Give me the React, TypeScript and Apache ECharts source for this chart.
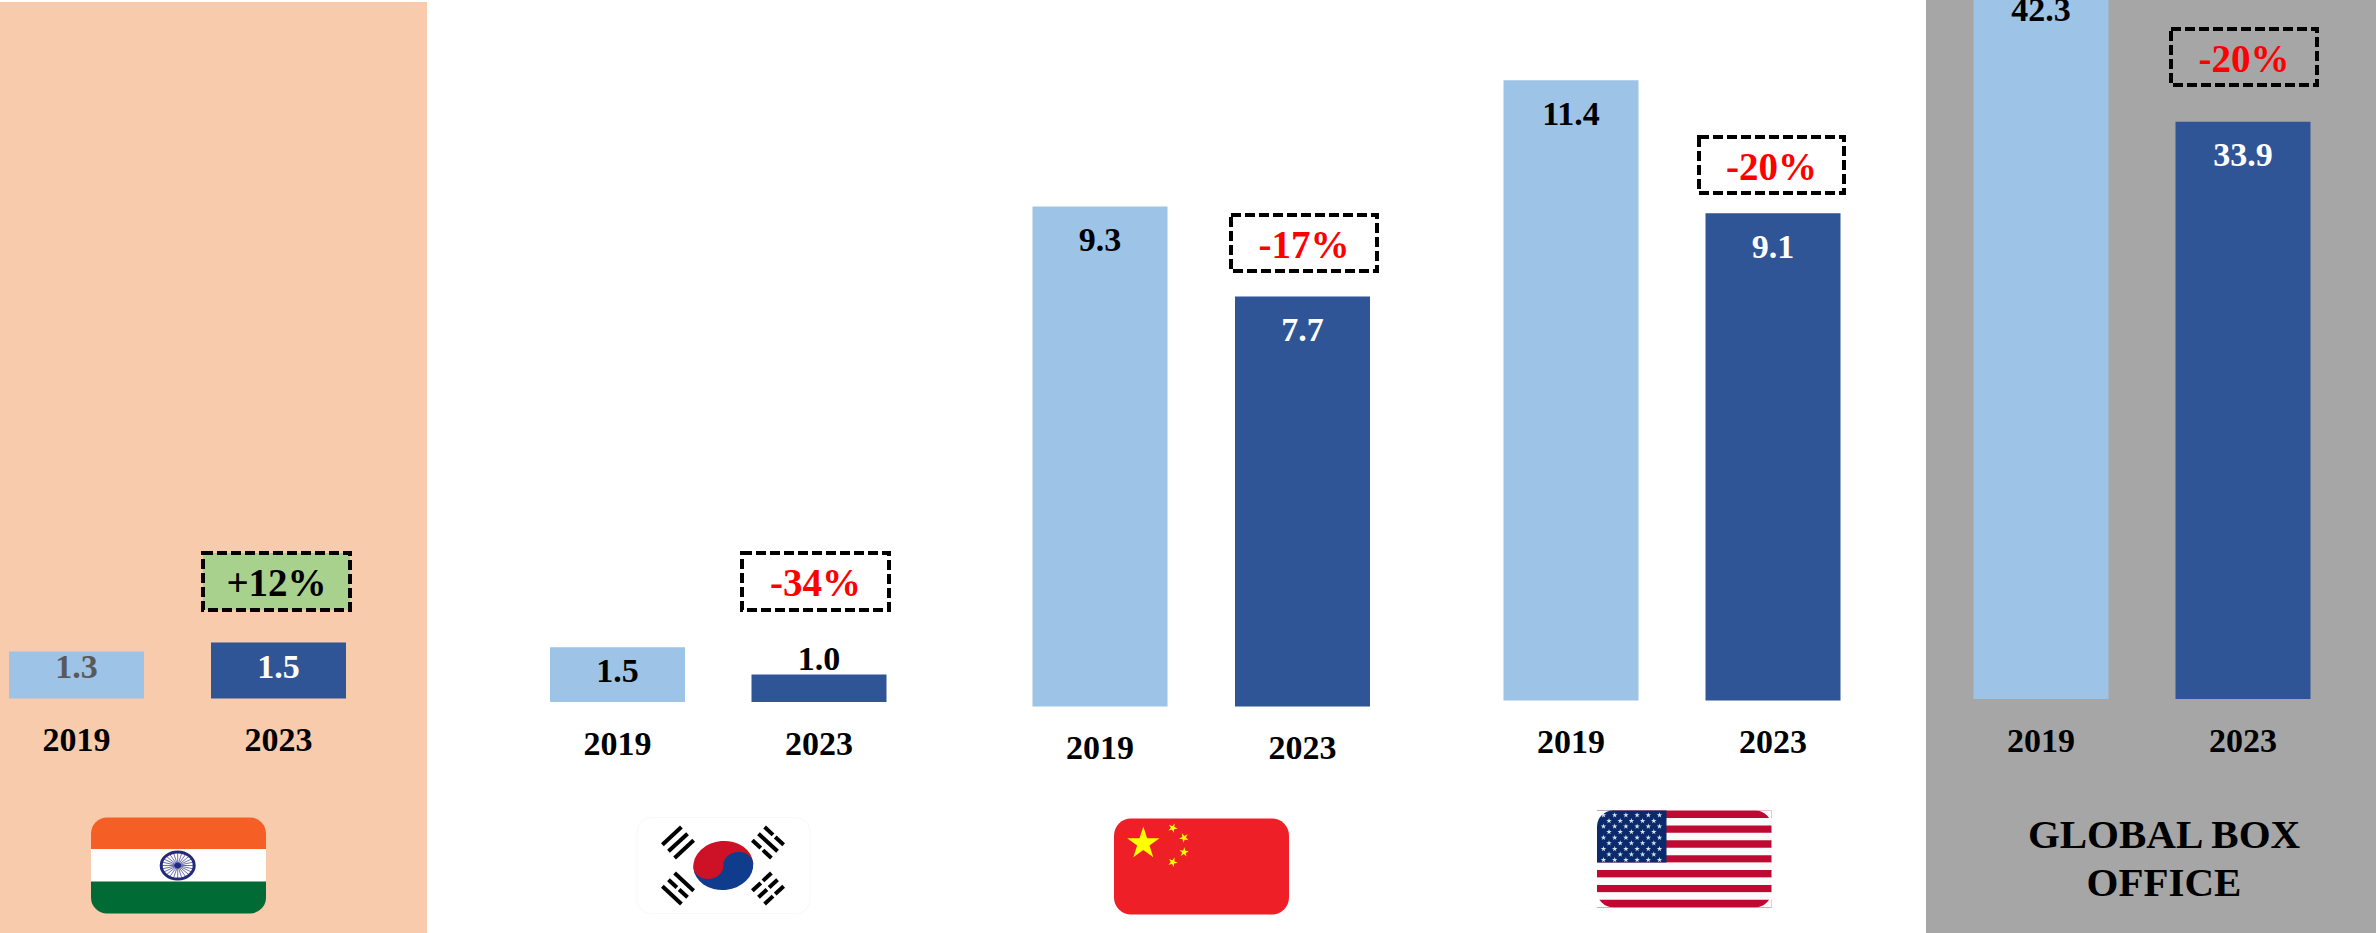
import React, { useEffect, useRef } from "react";
import * as echarts from "echarts";

const years = ["2019", "2023"];
const indiaValues = [1.3, 1.5];
const koreaValues = [1.5, 1.0];
const chinaValues = [9.3, 7.7];
const usaValues = [11.4, 9.1];
const globalValues = [42.3, 33.9];
const changeLabels = ["+12%", "-34%", "-17%", "-20%", "-20%"];
const globalTitle = "GLOBAL BOX\nOFFICE";

const LIGHT = "#9DC3E6";
const DARK = "#2F5597";
const FONT = "Liberation Serif";
const GRID_TOP = -60;

echarts.graphic.registerShape(
  "flagCorner",
  echarts.graphic.extendPath("M0 0H16A16 16 0 0 0 0 16Z", {})
);

type LabelStyle = { color: string; position: string; distance: number };
const labelIn = (color: string, distance: number): LabelStyle => ({ color, position: "insideTop", distance });

const panels = [
  { values: indiaValues, c1: 76.5, c2: 278.5, base: 698.5, min: 0.25, k: 44.8,
    labels: [labelIn("#595959", -2), labelIn("#FFFFFF", 7)] },
  { values: koreaValues, c1: 617.5, c2: 819, base: 702, min: 0.5, k: 54.8,
    labels: [labelIn("#000000", 6), { color: "#000000", position: "top", distance: -1 }] },
  { values: chinaValues, c1: 1100, c2: 1302.5, base: 706.5, min: 0.41, k: 56.25,
    labels: [labelIn("#000000", 16), labelIn("#FFFFFF", 16)] },
  { values: usaValues, c1: 1571, c2: 1773, base: 700.5, min: 0.67, k: 57.8,
    labels: [labelIn("#000000", 16), labelIn("#FFFFFF", 16)] },
  { values: globalValues, c1: 2041, c2: 2243, base: 699, min: 0, k: 17.03,
    labels: [labelIn("#000000", 14), labelIn("#FFFFFF", 16)] },
];

const boxes = [
  { x: 203, y: 553, w: 147, h: 57, fill: "#A9D18E", color: "#000000" },
  { x: 742, y: 553, w: 147, h: 57, fill: "#FFFFFF", color: "#FF0000" },
  { x: 1231, y: 215, w: 146, h: 56, fill: "#FFFFFF", color: "#FF0000" },
  { x: 1699, y: 137, w: 145, h: 56, fill: "#FFFFFF", color: "#FF0000" },
  { x: 2171, y: 29, w: 146, h: 56, fill: "transparent", color: "#FF0000" },
];

const star = (cx: number, cy: number, R: number, fill: string, rot = 0) => {
  const points: number[][] = [];
  for (let i = 0; i < 10; i++) {
    const r = i % 2 === 0 ? R : R * 0.382;
    const a = -Math.PI / 2 + rot + (i * Math.PI) / 5;
    points.push([cx + r * Math.cos(a), cy + r * Math.sin(a)]);
  }
  return { type: "polygon", silent: true, shape: { points }, style: { fill } };
};

const rect = (x: number, y: number, width: number, height: number, fill: string, r?: any) => ({
  type: "rect",
  silent: true,
  shape: { x, y, width, height, r: r ?? 0 },
  style: { fill },
});

function indiaFlag() {
  const cx = 177.7;
  const cy = 865.5;
  const out: any[] = [
    rect(91, 817.5, 175, 32, "#F55F26", [16, 16, 0, 0]),
    rect(91, 849, 175, 33, "#FFFFFF"),
    rect(91, 881.5, 175, 32, "#006B35", [0, 0, 16, 16]),
  ];
  for (let i = 0; i < 24; i++) {
    const a = (i * Math.PI) / 12;
    out.push({
      type: "line",
      silent: true,
      shape: { x1: cx, y1: cy, x2: cx + 16 * Math.cos(a), y2: cy + 13 * Math.sin(a) },
      style: { stroke: "#6E70B0", lineWidth: 1 },
    });
  }
  out.push({ type: "ellipse", silent: true, shape: { cx, cy, rx: 16.5, ry: 13.5 }, style: { fill: "none", stroke: "#232A7C", lineWidth: 3 } });
  out.push({ type: "ellipse", silent: true, shape: { cx, cy, rx: 3.5, ry: 3 }, style: { fill: "#232A7C" } });
  return out;
}

function trigram(cx: number, cy: number, angle: number, pattern: number[]) {
  const children: any[] = [];
  pattern.forEach((broken, i) => {
    const y = (i - 1) * 9 - 2;
    if (broken) {
      children.push(rect(-13, y, 11.5, 4, "#000000"));
      children.push(rect(1.5, y, 11.5, 4, "#000000"));
    } else {
      children.push(rect(-13, y, 26, 4, "#000000"));
    }
  });
  return { type: "group", x: cx, y: cy, rotation: angle, silent: true, children };
}

function koreaFlag() {
  const children = [
    { type: "sector", silent: true, shape: { cx: 0, cy: 0, r: 24, r0: 0, startAngle: Math.PI, endAngle: Math.PI * 2 }, style: { fill: "#CD1126" } },
    { type: "sector", silent: true, shape: { cx: 0, cy: 0, r: 24, r0: 0, startAngle: 0, endAngle: Math.PI }, style: { fill: "#0F3C8C" } },
    { type: "circle", silent: true, shape: { cx: -12, cy: 0, r: 12 }, style: { fill: "#CD1126" } },
    { type: "circle", silent: true, shape: { cx: 12, cy: 0, r: 12 }, style: { fill: "#0F3C8C" } },
  ];
  return [
    { type: "rect", silent: true, shape: { x: 637, y: 817.5, width: 173, height: 96, r: 14 }, style: { fill: "#FFFFFF", stroke: "#F8F8F8", lineWidth: 1 } },
    { type: "group", silent: true, x: 723.3, y: 865.5, scaleX: 30 / 24, scaleY: 24.5 / 24, rotation: 0.08, children },
    trigram(678, 842.5, Math.PI / 4.2, [0, 0, 0]),
    trigram(768, 842.5, -Math.PI / 4.2, [1, 0, 1]),
    trigram(678, 888.5, -Math.PI / 4.2, [0, 1, 0]),
    trigram(768, 888.5, Math.PI / 4.2, [1, 1, 1]),
  ];
}

function chinaFlag() {
  return [
    rect(1114, 818.5, 175, 96, "#EF1F28", 17),
    star(1143.3, 843.5, 17, "#FFFF00"),
    star(1172.7, 828, 5, "#FFFF00", 0.4),
    star(1184, 837.8, 5, "#FFFF00", 0.8),
    star(1184, 852.2, 5, "#FFFF00", 0.1),
    star(1172.7, 862.2, 5, "#FFFF00", 0.4),
  ];
}

function usaFlag() {
  const x = 1597;
  const y = 810.5;
  const w = 174.5;
  const sh = 96.7 / 13;
  const out: any[] = [];
  for (let i = 0; i < 13; i++) {
    out.push(rect(x, y + i * sh, w, sh + 0.3, i % 2 === 0 ? "#BE0A32" : "#FBFBFB"));
  }
  out.push(rect(x, y, 69.5, sh * 7, "#0B2A6B"));
  for (let row = 0; row < 9; row++) {
    const n = row % 2 === 0 ? 6 : 5;
    const off = row % 2 === 0 ? 6.5 : 12;
    for (let i = 0; i < n; i++) {
      out.push(star(x + off + i * 11.2, y + 4.7 + row * 5.6, 2.9, "#D9E2EF"));
    }
  }
  const corners = [
    [x, y, 1, 1],
    [x + w, y, -1, 1],
    [x, y + 96.7, 1, -1],
    [x + w, y + 96.7, -1, -1],
  ];
  corners.forEach(([cx, cy, sx, sy]) => {
    out.push({ type: "flagCorner", silent: true, x: cx, y: cy, scaleX: sx, scaleY: sy, style: { fill: "#FFFFFF" } });
  });
  return out;
}

function boxGraphics() {
  const out: any[] = [];
  boxes.forEach((b, i) => {
    out.push({
      type: "rect",
      silent: true,
      shape: { x: b.x, y: b.y, width: b.w, height: b.h },
      style: { fill: b.fill, stroke: "#000000", lineWidth: 4, lineDash: [10, 4] },
    });
    out.push({
      type: "text",
      silent: true,
      x: b.x + b.w / 2,
      y: b.y + b.h / 2 + 1,
      style: {
        text: changeLabels[i],
        fill: b.color,
        font: `bold 39px "${FONT}"`,
        textAlign: "center",
        textVerticalAlign: "middle",
      },
    });
  });
  return out;
}

function buildOption() {
  const grid: any[] = [];
  const xAxis: any[] = [];
  const yAxis: any[] = [];
  const series: any[] = [];
  panels.forEach((p, i) => {
    const band = p.c2 - p.c1;
    const height = p.base - GRID_TOP;
    grid.push({ left: p.c1 - band / 2, width: band * 2, top: GRID_TOP, height, outerBoundsMode: "none", containLabel: false });
    xAxis.push({
      type: "category",
      gridIndex: i,
      data: years,
      axisLine: { show: false },
      axisTick: { show: false },
      axisLabel: { interval: 0, margin: 24, fontFamily: FONT, fontWeight: "bold", fontSize: 34, color: "#000000" },
    });
    yAxis.push({ type: "value", gridIndex: i, min: p.min, max: p.min + height / p.k, show: false });
    series.push({
      type: "bar",
      xAxisIndex: i,
      yAxisIndex: i,
      barWidth: 135,
      data: p.values.map((value, j) => ({
        value,
        itemStyle: { color: j === 0 ? LIGHT : DARK },
        label: {
          show: true,
          position: p.labels[j].position,
          distance: p.labels[j].distance,
          color: p.labels[j].color,
          formatter: value.toFixed(1),
          fontFamily: FONT,
          fontWeight: "bold",
          fontSize: 34,
        },
      })),
    });
  });

  const graphic = [
    { type: "rect", silent: true, z: -10, shape: { x: 0, y: 2, width: 427, height: 931 }, style: { fill: "#F8CBAD" } },
    { type: "rect", silent: true, z: -10, shape: { x: 1926, y: 0, width: 450, height: 933 }, style: { fill: "#A6A6A6" } },
    ...boxGraphics(),
    ...indiaFlag(),
    ...koreaFlag(),
    ...chinaFlag(),
    ...usaFlag(),
    {
      type: "text",
      silent: true,
      x: 2164,
      y: 858,
      style: {
        text: globalTitle,
        fill: "#000000",
        font: `bold 41px "${FONT}"`,
        lineHeight: 48,
        textAlign: "center",
        textVerticalAlign: "middle",
      },
    },
  ];

  return { animation: false, backgroundColor: "#FFFFFF", grid, xAxis, yAxis, series, graphic };
}

export default function App() {
  const ref = useRef<HTMLDivElement>(null);
  useEffect(() => {
    document.body.style.margin = "0";
    const chart = echarts.init(ref.current!, undefined, { renderer: "svg" });
    chart.setOption(buildOption() as any);
    return () => chart.dispose();
  }, []);
  return <div ref={ref} style={{ width: 2376, height: 933, position: "absolute", left: 0, top: 0, overflow: "hidden" }} />;
}
